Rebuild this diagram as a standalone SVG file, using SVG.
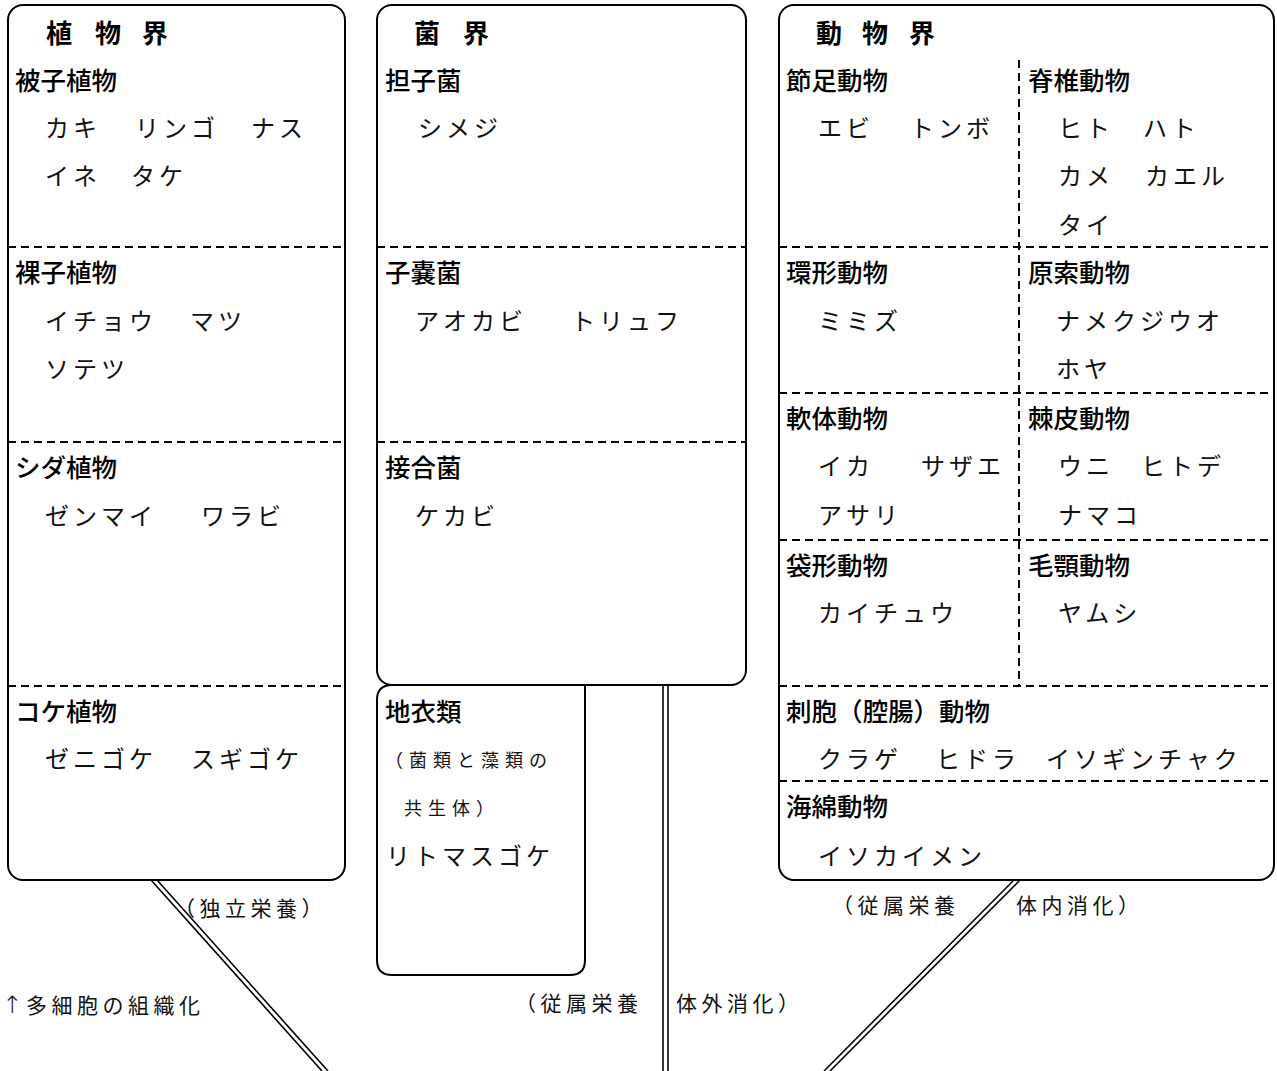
<svg xmlns="http://www.w3.org/2000/svg" width="1277" height="1071" viewBox="0 0 1277 1071">
<style>
.box{fill:none;stroke:#000;stroke-width:2}
.dash{stroke:#000;stroke-width:2;stroke-dasharray:8 5;fill:none}
.ln{stroke:#000;stroke-width:1.6;fill:none}
.t{font-family:"Noto Sans CJK JP",sans-serif;font-size:26px;font-weight:bold;fill:#000}
.h{font-family:"Noto Sans CJK JP",sans-serif;font-size:25.5px;font-weight:500;fill:#000}
.i{font-family:"Noto Sans CJK JP",sans-serif;font-size:24px;font-weight:400;letter-spacing:4px;fill:#111}
.s{font-family:"Noto Sans CJK JP",sans-serif;font-size:18px;font-weight:400;letter-spacing:6px;fill:#111}
.l{font-family:"Noto Sans CJK JP",sans-serif;font-size:21px;font-weight:400;letter-spacing:4.5px;fill:#111}
.ar{font-family:"DejaVu Sans",sans-serif;font-size:24px;font-weight:300}
</style>
<rect width="1277" height="1071" fill="#fff"/>

<g id="plant">
<rect class="box" x="8" y="5" width="337" height="875" rx="15"/>
<line class="dash" x1="8" y1="247" x2="345" y2="247"/>
<line class="dash" x1="8" y1="442" x2="345" y2="442"/>
<line class="dash" x1="8" y1="686" x2="345" y2="686"/>
<text class="t" y="43"><tspan x="46">植</tspan><tspan x="95">物</tspan><tspan x="142">界</tspan></text>
<text class="h" x="15" y="89.5">被子植物</text>
<text class="i" y="137"><tspan x="45">カキ</tspan><tspan x="135">リンゴ</tspan><tspan x="251">ナス</tspan></text>
<text class="i" y="185"><tspan x="45">イネ</tspan><tspan x="131">タケ</tspan></text>
<text class="h" x="15" y="281.5">裸子植物</text>
<text class="i" y="330"><tspan x="45">イチョウ</tspan><tspan x="190">マツ</tspan></text>
<text class="i" x="45" y="378">ソテツ</text>
<text class="h" x="15" y="476.5">シダ植物</text>
<text class="i" y="525"><tspan x="45">ゼンマイ</tspan><tspan x="201">ワラビ</tspan></text>
<text class="h" x="15" y="720.5">コケ植物</text>
<text class="i" y="768"><tspan x="45">ゼニゴケ</tspan><tspan x="191">スギゴケ</tspan></text>
</g>

<g id="fungi">
<rect class="box" x="377" y="5" width="369" height="680" rx="15"/>
<line class="dash" x1="377" y1="247" x2="746" y2="247"/>
<line class="dash" x1="377" y1="442" x2="746" y2="442"/>
<text class="t" y="43"><tspan x="414">菌</tspan><tspan x="463">界</tspan></text>
<text class="h" x="385" y="89.5">担子菌</text>
<text class="i" x="418" y="137">シメジ</text>
<text class="h" x="385" y="281.5">子嚢菌</text>
<text class="i" y="330"><tspan x="415">アオカビ</tspan><tspan x="571">トリュフ</tspan></text>
<text class="h" x="385" y="476.5">接合菌</text>
<text class="i" x="415" y="525">ケカビ</text>
</g>

<g id="lichen">
<path class="box" d="M585,685 L585,960 Q585,975 570,975 L392,975 Q377,975 377,960 L377,700 Q377,685 392,685"/>
<text class="h" x="385" y="720.5">地衣類</text>
<text class="s" x="385" y="766.5">（菌類と藻類の</text>
<text class="s" x="404" y="814.5">共生体）</text>
<text class="i" x="386" y="865">リトマスゴケ</text>
</g>

<g id="animal">
<rect class="box" x="779" y="5" width="495" height="875" rx="15"/>
<line class="dash" x1="1019" y1="60" x2="1019" y2="686"/>
<line class="dash" x1="779" y1="247" x2="1274" y2="247"/>
<line class="dash" x1="779" y1="393" x2="1274" y2="393"/>
<line class="dash" x1="779" y1="540" x2="1274" y2="540"/>
<line class="dash" x1="779" y1="686" x2="1274" y2="686"/>
<line class="dash" x1="779" y1="781" x2="1274" y2="781"/>
<text class="t" y="43"><tspan x="816">動</tspan><tspan x="862">物</tspan><tspan x="909">界</tspan></text>
<text class="h" x="786" y="89.5">節足動物</text>
<text class="i" y="137"><tspan x="818">エビ</tspan><tspan x="910">トンボ</tspan></text>
<text class="h" x="1028" y="89.5">脊椎動物</text>
<text class="i" y="137"><tspan x="1058">ヒト</tspan><tspan x="1143">ハト</tspan></text>
<text class="i" y="185"><tspan x="1058">カメ</tspan><tspan x="1145">カエル</tspan></text>
<text class="i" x="1058" y="234">タイ</text>
<text class="h" x="786" y="281.5">環形動物</text>
<text class="i" x="818" y="330">ミミズ</text>
<text class="h" x="1028" y="281.5">原索動物</text>
<text class="i" x="1056" y="330">ナメクジウオ</text>
<text class="i" x="1056" y="378">ホヤ</text>
<text class="h" x="786" y="427.5">軟体動物</text>
<text class="i" y="475"><tspan x="818">イカ</tspan><tspan x="921">サザエ</tspan></text>
<text class="i" x="818" y="524">アサリ</text>
<text class="h" x="1028" y="427.5">棘皮動物</text>
<text class="i" y="475"><tspan x="1058">ウニ</tspan><tspan x="1141">ヒトデ</tspan></text>
<text class="i" x="1058" y="524">ナマコ</text>
<text class="h" x="786" y="574.5">袋形動物</text>
<text class="i" x="818" y="622">カイチュウ</text>
<text class="h" x="1028" y="574.5">毛顎動物</text>
<text class="i" x="1058" y="622">ヤムシ</text>
<text class="h" x="786" y="720.5">刺胞（腔腸）動物</text>
<text class="i" y="768"><tspan x="818">クラゲ</tspan><tspan x="936">ヒドラ</tspan><tspan x="1046">イソギンチャク</tspan></text>
<text class="h" x="786" y="815.5">海綿動物</text>
<text class="i" x="818" y="865">イソカイメン</text>
</g>

<g id="connectors">
<line class="ln" x1="151" y1="880" x2="322" y2="1071"/>
<line class="ln" x1="157" y1="880" x2="328" y2="1071"/>
<line class="ln" x1="663" y1="685" x2="663" y2="1071"/>
<line class="ln" x1="668" y1="685" x2="668" y2="1071"/>
<line class="ln" x1="1014" y1="880" x2="824" y2="1071"/>
<line class="ln" x1="1020" y1="880" x2="830" y2="1071"/>
</g>

<g id="labels">
<text class="l" x="174" y="915.5">（独立栄養）</text>
<text class="l" y="1013"><tspan class="ar" x="2">↑</tspan><tspan x="26">多細胞の組織化</tspan></text>
<text class="l" y="1010.5"><tspan x="515">（従属栄養</tspan><tspan x="676">体外消化）</tspan></text>
<text class="l" y="912.5"><tspan x="832">（従属栄養</tspan><tspan x="1016">体内消化）</tspan></text>
</g>
</svg>
